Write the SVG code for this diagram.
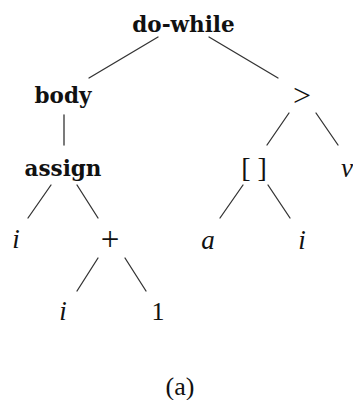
<svg xmlns="http://www.w3.org/2000/svg" width="353" height="400" viewBox="0 0 353 400">
<style>
.b{font-family:"DejaVu Serif","Liberation Serif",serif;font-weight:bold;font-size:21.5px;fill:#111;text-anchor:middle}
.r{font-family:"Liberation Serif",serif;font-size:26px;fill:#111;text-anchor:middle}
.it{font-family:"Liberation Serif",serif;font-style:italic;font-size:27px;fill:#111;text-anchor:middle}
#edges line{stroke:#333;stroke-width:1.3;stroke-linecap:round}
</style>
<rect width="353" height="400" fill="#fff"/>
<g id="edges">
<line x1="158" y1="37" x2="89" y2="78"/>
<line x1="209" y1="37" x2="278" y2="78"/>
<line x1="64" y1="115" x2="64" y2="145"/>
<line x1="289" y1="113" x2="267" y2="145"/>
<line x1="316" y1="113" x2="338" y2="145"/>
<line x1="51" y1="185" x2="28" y2="218"/>
<line x1="77" y1="185" x2="98" y2="218"/>
<line x1="243" y1="185" x2="220" y2="218"/>
<line x1="268" y1="185" x2="290" y2="218"/>
<line x1="98" y1="258" x2="77" y2="291"/>
<line x1="125" y1="258" x2="146" y2="291"/>
</g>
<g id="n-dowhile"><text class="b" x="183.5" y="32">do-while</text></g>
<g id="n-body"><text class="b" x="63" y="103">body</text></g>
<g id="n-gt"><text class="r" x="302" y="106" style="font-size:32px">&gt;</text></g>
<g id="n-assign"><text class="b" x="63" y="176">assign</text></g>
<g id="n-index"><text class="r" x="254" y="177" style="font-size:28px">[ ]</text></g>
<g id="n-v"><text class="it" x="341" y="177" style="text-anchor:start">v</text></g>
<g id="n-i1"><text class="it" x="16" y="248">i</text></g>
<g id="n-plus"><text class="r" x="110" y="250" style="font-size:33px">+</text></g>
<g id="n-a"><text class="it" x="208" y="249">a</text></g>
<g id="n-i2"><text class="it" x="302" y="249">i</text></g>
<g id="n-i3"><text class="it" x="63" y="320">i</text></g>
<g id="n-one"><text class="r" x="158" y="320">1</text></g>
<g id="caption"><text class="r" x="180" y="395">(a)</text></g>
</svg>
